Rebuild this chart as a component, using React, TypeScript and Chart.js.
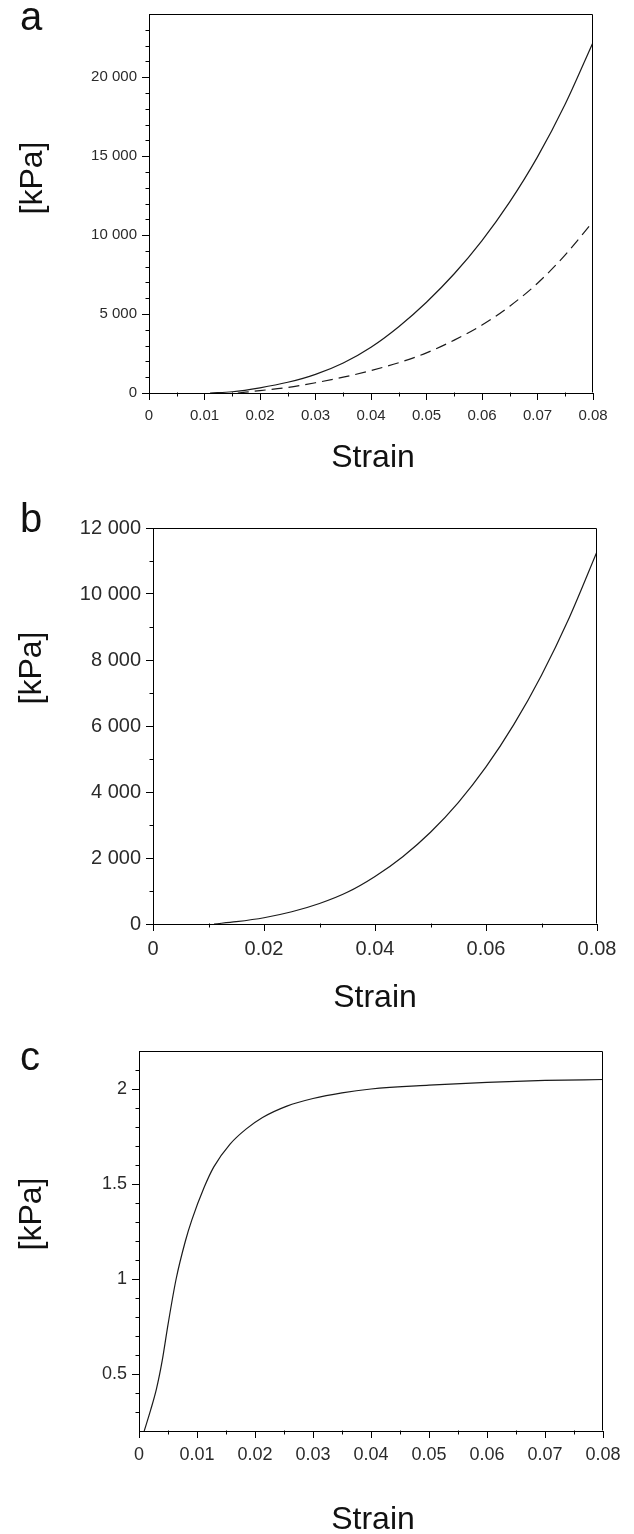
import React, { useEffect, useRef } from 'react';
import { Chart, registerables } from 'chart.js';

Chart.register(...registerables);

const FONT = '"Liberation Sans", Arial, Helvetica, sans-serif';

// ---------- Panel a ----------
const A_STRAIN_SOLID = [0.011, 0.015, 0.02, 0.025, 0.03, 0.035, 0.04, 0.045, 0.05, 0.055, 0.06, 0.065, 0.07, 0.075, 0.08];
const A_KPA_SOLID = [0, 80, 330, 680, 1180, 1900, 2900, 4200, 5750, 7550, 9650, 12100, 14950, 18300, 22200];
const A_STRAIN_DASHED = [0.016, 0.02, 0.025, 0.03, 0.035, 0.04, 0.045, 0.05, 0.055, 0.06, 0.065, 0.07, 0.075, 0.08];
const A_KPA_DASHED = [0, 150, 350, 650, 1000, 1420, 1920, 2540, 3350, 4300, 5500, 6950, 8750, 10850];
const A_X_TICKS = [0, 0.01, 0.02, 0.03, 0.04, 0.05, 0.06, 0.07, 0.08];
const A_X_MINOR = [0.005, 0.015, 0.025, 0.035, 0.045, 0.055, 0.065, 0.075];
const A_Y_TICKS = [0, 5000, 10000, 15000, 20000];
const A_Y_MINOR = [1000, 2000, 3000, 4000, 6000, 7000, 8000, 9000, 11000, 12000, 13000, 14000, 16000, 17000, 18000, 19000, 21000, 22000, 23000];

// ---------- Panel b ----------
const B_STRAIN = [0.011, 0.015, 0.02, 0.025, 0.03, 0.035, 0.04, 0.045, 0.05, 0.055, 0.06, 0.065, 0.07, 0.075, 0.08];
const B_KPA = [0, 70, 190, 370, 620, 960, 1440, 2040, 2780, 3680, 4760, 6040, 7540, 9280, 11280];
const B_X_TICKS = [0, 0.02, 0.04, 0.06, 0.08];
const B_X_MINOR = [0.01, 0.03, 0.05, 0.07];
const B_Y_TICKS = [0, 2000, 4000, 6000, 8000, 10000, 12000];
const B_Y_MINOR = [1000, 3000, 5000, 7000, 9000, 11000];

// ---------- Panel c ----------
const C_STRAIN = [0.0009, 0.002, 0.003, 0.004, 0.005, 0.0064, 0.008, 0.0091, 0.0112, 0.0129, 0.0157, 0.0185, 0.0213, 0.0255, 0.03, 0.035, 0.04, 0.05, 0.06, 0.07, 0.08];
const C_KPA = [0.2, 0.31, 0.42, 0.57, 0.76, 1.0, 1.2, 1.31, 1.48, 1.59, 1.71, 1.79, 1.85, 1.91, 1.95, 1.98, 2.0, 2.02, 2.035, 2.045, 2.05];
const C_X_TICKS = [0, 0.01, 0.02, 0.03, 0.04, 0.05, 0.06, 0.07, 0.08];
const C_X_MINOR = [0.005, 0.015, 0.025, 0.035, 0.045, 0.055, 0.065, 0.075];
const C_Y_TICKS = [0.5, 1, 1.5, 2];
const C_Y_MINOR = [0.3, 0.4, 0.6, 0.7, 0.8, 0.9, 1.1, 1.2, 1.3, 1.4, 1.6, 1.7, 1.8, 1.9, 2.1];

const X_LABEL = 'Strain';
const Y_LABEL = '[kPa]';

const fmtStrain = (v: number) => (v === 0 ? '0' : v.toFixed(2));
const fmtThousands = (v: number) =>
  v >= 1000 ? `${Math.floor(v / 1000)} ${String(Math.round(v % 1000)).padStart(3, '0')}` : String(v);
const fmtPlain = (v: number) => String(v);

const toPoints = (xs: number[], ys: number[]) => xs.map((x, i) => ({ x, y: ys[i] }));

const framePlugin = {
  id: 'frame',
  afterDraw(chart: any, _args: any, opts: any) {
    const { ctx, chartArea: a, scales } = chart;
    ctx.save();
    ctx.strokeStyle = '#000';
    ctx.lineWidth = 1;
    ctx.beginPath();
    const L = Math.round(a.left) + 0.5;
    const R = Math.round(a.right) - 0.5;
    const T = Math.round(a.top) + 0.5;
    const B = Math.round(a.bottom) - 0.5;
    ctx.moveTo(L, T);
    ctx.lineTo(R, T);
    ctx.lineTo(R, B);
    ctx.stroke();
    ctx.beginPath();
    for (const v of opts.xMinor || []) {
      const px = Math.round(scales.x.getPixelForValue(v)) + 0.5;
      ctx.moveTo(px, B);
      ctx.lineTo(px, B + 4);
    }
    for (const v of opts.yMinor || []) {
      const py = Math.round(scales.y.getPixelForValue(v)) + 0.5;
      ctx.moveTo(L - 4, py);
      ctx.lineTo(L, py);
    }
    ctx.stroke();
    ctx.restore();
  },
};

type PanelProps = {
  top: number;
  height: number;
  area: { left: number; right: number; top: number; bottom: number };
  series: { xs: number[]; ys: number[]; dash?: number[] }[];
  xMin: number;
  xMax: number;
  yMin: number;
  yMax: number;
  xTicks: number[];
  xMinor: number[];
  yTicks: number[];
  yMinor: number[];
  fontSize: number;
  xPad: number;
  yPad: number;
  yFmt: (v: number) => string;
};

function Panel(p: PanelProps) {
  const ref = useRef<HTMLCanvasElement | null>(null);
  useEffect(() => {
    if (!ref.current) return;
    const W = 634;
    const chart = new Chart(ref.current, {
      type: 'line',
      data: {
        datasets: p.series.map((s) => ({
          data: toPoints(s.xs, s.ys),
          borderColor: '#1a1a1a',
          borderWidth: 1.2,
          borderDash: s.dash || [],
          pointRadius: 0,
          fill: false,
          cubicInterpolationMode: 'monotone',
        })),
      },
      options: {
        animation: false,
        responsive: false,
        devicePixelRatio: 1,
        layout: { padding: { left: 0, top: p.area.top, right: W - p.area.right, bottom: 0 } },
        plugins: {
          legend: { display: false },
          tooltip: { enabled: false },
          frame: { xMinor: p.xMinor, yMinor: p.yMinor },
        } as any,
        scales: {
          x: {
            type: 'linear',
            min: p.xMin,
            max: p.xMax,
            afterBuildTicks: (s: any) => {
              s.ticks = p.xTicks.map((v) => ({ value: v }));
            },
            afterFit: (s: any) => {
              s.height = p.height - p.area.bottom;
            },
            ticks: {
              callback: (v: any) => fmtStrain(Number(v)),
              font: { family: FONT, size: p.fontSize },
              color: '#2a2a2a',
              padding: p.xPad,
              maxRotation: 0,
              autoSkip: false,
            },
            grid: { drawOnChartArea: false, tickLength: 7, color: '#000', lineWidth: 1 },
            border: { color: '#000', width: 1 },
          },
          y: {
            type: 'linear',
            min: p.yMin,
            max: p.yMax,
            afterBuildTicks: (s: any) => {
              s.ticks = p.yTicks.map((v) => ({ value: v }));
            },
            afterFit: (s: any) => {
              s.width = p.area.left;
            },
            ticks: {
              callback: (v: any) => p.yFmt(Number(v)),
              font: { family: FONT, size: p.fontSize },
              color: '#2a2a2a',
              padding: p.yPad,
              autoSkip: false,
            },
            grid: { drawOnChartArea: false, tickLength: 7, color: '#000', lineWidth: 1 },
            border: { color: '#000', width: 1 },
          },
        },
      },
      plugins: [framePlugin],
    } as any);
    return () => chart.destroy();
  }, []);
  return (
    <canvas
      ref={ref}
      width={634}
      height={p.height}
      style={{ position: 'absolute', left: 0, top: p.top, width: 634, height: p.height }}
    />
  );
}

function Txt(props: { x: number; y: number; size: number; text: string; rotate?: boolean }) {
  return (
    <div
      style={{
        position: 'absolute',
        left: props.x,
        top: props.y,
        transform: `translate(-50%, -50%)${props.rotate ? ' rotate(-90deg)' : ''}`,
        fontFamily: FONT,
        fontSize: props.size,
        lineHeight: 1,
        whiteSpace: 'nowrap',
        color: '#111',
      }}
    >
      {props.text}
    </div>
  );
}

export default function App() {
  return (
    <div style={{ position: 'absolute', left: 0, top: 0, width: 634, height: 1534, background: '#fff' }}>
      <Panel
        top={0}
        height={480}
        area={{ left: 149, right: 593, top: 9, bottom: 393 }}
        series={[
          { xs: A_STRAIN_SOLID, ys: A_KPA_SOLID },
          { xs: A_STRAIN_DASHED, ys: A_KPA_DASHED, dash: [11, 6] },
        ]}
        xMin={0}
        xMax={0.08}
        yMin={0}
        yMax={24000}
        xTicks={A_X_TICKS}
        xMinor={A_X_MINOR}
        yTicks={A_Y_TICKS}
        yMinor={A_Y_MINOR}
        fontSize={15}
        xPad={7}
        yPad={5}
        yFmt={fmtThousands}
      />
      <Panel
        top={480}
        height={540}
        area={{ left: 153, right: 597, top: 48, bottom: 444 }}
        series={[{ xs: B_STRAIN, ys: B_KPA }]}
        xMin={0}
        xMax={0.08}
        yMin={0}
        yMax={12000}
        xTicks={B_X_TICKS}
        xMinor={B_X_MINOR}
        yTicks={B_Y_TICKS}
        yMinor={B_Y_MINOR}
        fontSize={20}
        xPad={6}
        yPad={5}
        yFmt={fmtThousands}
      />
      <Panel
        top={1020}
        height={514}
        area={{ left: 139, right: 603, top: 31, bottom: 411 }}
        series={[{ xs: C_STRAIN, ys: C_KPA }]}
        xMin={0}
        xMax={0.08}
        yMin={0.2}
        yMax={2.2}
        xTicks={C_X_TICKS}
        xMinor={C_X_MINOR}
        yTicks={C_Y_TICKS}
        yMinor={C_Y_MINOR}
        fontSize={18}
        xPad={6}
        yPad={5}
        yFmt={fmtPlain}
      />
      <Txt x={31} y={16} size={40} text="a" />
      <Txt x={31} y={518} size={40} text="b" />
      <Txt x={30} y={1056} size={40} text="c" />
      <Txt x={31} y={178} size={32} text={Y_LABEL} rotate />
      <Txt x={30} y={668} size={32} text={Y_LABEL} rotate />
      <Txt x={30} y={1214} size={32} text={Y_LABEL} rotate />
      <Txt x={373} y={456} size={32} text={X_LABEL} />
      <Txt x={375} y={996} size={32} text={X_LABEL} />
      <Txt x={373} y={1518} size={32} text={X_LABEL} />
    </div>
  );
}
